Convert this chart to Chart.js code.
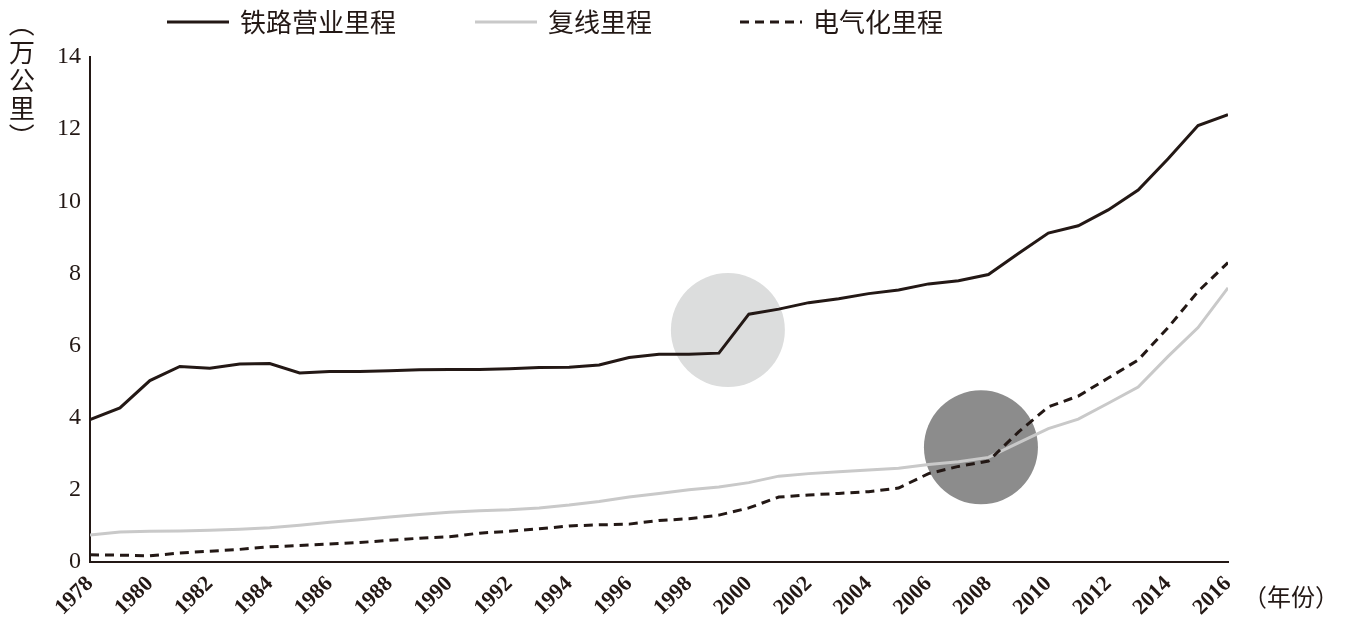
<!DOCTYPE html>
<html><head><meta charset="utf-8">
<script src="https://cdn.jsdelivr.net/npm/chart.js@4"></script>
<style>html,body{margin:0;padding:0;background:#fff}#w{width:1353px;height:631px}</style>
</head><body><div id="w"><canvas id="c"></canvas></div>
<script>
const years=[1978,1979,1980,1981,1982,1983,1984,1985,1986,1987,1988,1989,1990,1991,1992,1993,1994,1995,1996,1997,1998,1999,2000,2001,2002,2003,2004,2005,2006,2007,2008,2009,2010,2011,2012,2013,2014,2015,2016];
const operating=[3.95,4.27,5.03,5.42,5.37,5.49,5.5,5.24,5.28,5.28,5.3,5.33,5.34,5.34,5.36,5.39,5.4,5.46,5.67,5.76,5.76,5.79,6.87,7.01,7.19,7.3,7.44,7.54,7.71,7.8,7.97,8.55,9.12,9.32,9.76,10.31,11.18,12.1,12.4];
const doubleTrack=[0.75,0.83,0.85,0.86,0.88,0.91,0.95,1.02,1.1,1.17,1.25,1.32,1.38,1.42,1.45,1.5,1.58,1.68,1.8,1.9,2.0,2.08,2.2,2.38,2.45,2.5,2.55,2.6,2.7,2.78,2.9,3.3,3.7,3.96,4.4,4.85,5.7,6.5,7.6];
const electrified=[0.2,0.19,0.17,0.25,0.3,0.35,0.42,0.46,0.5,0.54,0.6,0.66,0.7,0.8,0.85,0.92,1.0,1.03,1.05,1.15,1.2,1.3,1.5,1.8,1.86,1.9,1.95,2.05,2.45,2.65,2.8,3.6,4.3,4.6,5.1,5.6,6.5,7.5,8.3];
const seriesNames=["铁路营业里程","复线里程","电气化里程"];
const highlights=[{x:1999.3,y:6.43},{x:2007.75,y:3.18}];
const pts=a=>a.map((v,i)=>({x:years[i],y:v}));
const font="'Liberation Serif','Noto Sans CJK SC',serif";
const legendPlugin={id:'lg',afterDraw(ch){const c=ch.ctx;c.save();
 const items=[{x:167,t:seriesNames[0],col:'#231815',d:[]},{x:475,t:seriesNames[1],col:'#c9c9c9',d:[]},{x:740,t:seriesNames[2],col:'#231815',d:[9,6]}];
 c.font="26px 'Noto Sans CJK SC'";c.textBaseline='middle';
 items.forEach(it=>{c.strokeStyle=it.col;c.lineWidth=3;c.setLineDash(it.d);c.beginPath();c.moveTo(it.x,22);c.lineTo(it.x+62,22);c.stroke();c.setLineDash([]);c.fillStyle='#231815';c.fillText(it.t,it.x+73,22);});
 c.font="24px 'Noto Sans CJK SC'";c.fillText('（年份）',1243,597);
 c.textAlign='center';c.font="26px 'Noto Sans CJK SC'";['（','万','公','里','）'].forEach((s,i)=>{c.save();c.translate(22,24+i*28);if(i==0||i==4)c.rotate(Math.PI/2);c.fillText(s,0,0);c.restore();});
 c.restore();}};
new Chart(document.getElementById('c'),{type:'line',
data:{datasets:[
{type:'scatter',data:[highlights[0]],pointRadius:57,pointHoverRadius:57,backgroundColor:'#dcdddd',borderWidth:0,order:5},
{type:'scatter',data:[highlights[1]],pointRadius:57,pointHoverRadius:57,backgroundColor:'#8c8c8c',borderWidth:0,order:5},
{label:seriesNames[0],data:pts(operating),borderColor:'#231815',borderWidth:3,pointRadius:0,tension:0,order:1},
{label:seriesNames[1],data:pts(doubleTrack),borderColor:'#c9c9c9',borderWidth:3,pointRadius:0,tension:0,order:2},
{label:seriesNames[2],data:pts(electrified),borderColor:'#231815',borderWidth:3,borderDash:[9,6],pointRadius:0,tension:0,order:0}]},
options:{responsive:true,maintainAspectRatio:false,animation:false,
layout:{padding:{top:16,right:125,left:0,bottom:0}},
plugins:{legend:{display:false},tooltip:{enabled:false}},
scales:{
x:{type:'linear',min:1978,max:2016,afterFit(s){s.height=69;},grid:{display:false,drawTicks:true,tickLength:6},border:{color:'#231815',width:2},
 ticks:{stepSize:2,minRotation:45,maxRotation:45,color:'#231815',font:{family:font,size:22,weight:'bold'},callback:v=>String(v)}},
y:{min:0,max:14,afterFit(s){s.width=90;},grid:{display:false,tickLength:6},border:{color:'#231815',width:2},
 ticks:{stepSize:2,color:'#231815',font:{family:font,size:24}}}}},
plugins:[legendPlugin]});
</script></body></html>
